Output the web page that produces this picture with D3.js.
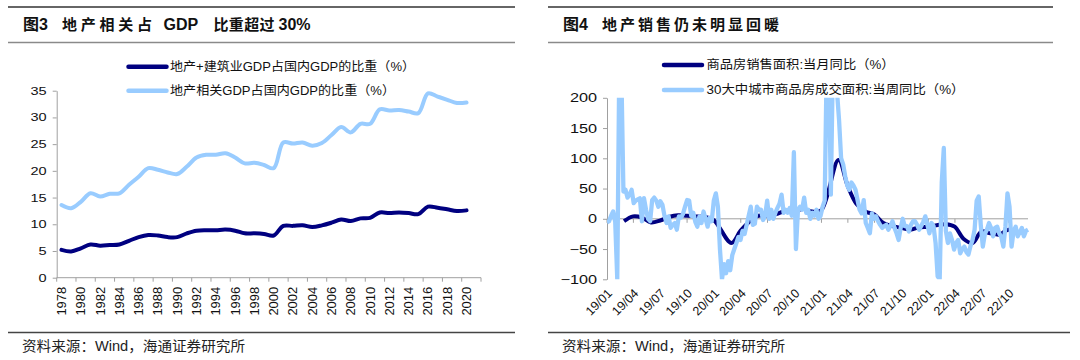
<!DOCTYPE html>
<html><head><meta charset="utf-8">
<script src="https://cdn.jsdelivr.net/npm/d3@7"></script>
<style>
body{margin:0;background:#fff;}
svg{display:block;font-family:"Liberation Sans","Noto Sans CJK SC",sans-serif;}
</style></head><body>
<svg id="c" width="1080" height="360"></svg>
<script>
// ---------- DATA ----------
const years = ["1978","1979","1980","1981","1982","1983","1984","1985","1986","1987","1988","1989","1990","1991","1992","1993","1994","1995","1996","1997","1998","1999","2000","2001","2002","2003","2004","2005","2006","2007","2008","2009","2010","2011","2012","2013","2014","2015","2016","2017","2018","2019","2020","2021"];
const yearLabels = ["1978","1980","1982","1984","1986","1988","1990","1992","1994","1996","1998","2000","2002","2004","2006","2008","2010","2012","2014","2016","2018","2020"];
const reConstShare = [5.2,4.9,5.5,6.2,6.0,6.1,6.2,6.9,7.6,8.0,7.9,7.6,7.6,8.3,8.8,8.9,8.9,9.0,8.8,8.3,8.3,8.2,7.9,9.7,9.7,9.8,9.5,9.8,10.3,10.9,10.6,11.1,11.2,12.2,12.1,12.2,12.1,11.9,13.3,13.1,12.8,12.5,12.6];
const reRelatedShare = [13.6,13.0,14.2,15.8,15.2,15.7,15.8,17.4,18.9,20.5,20.2,19.7,19.4,20.8,22.5,23.0,23.0,23.3,22.5,21.4,21.5,21.1,20.5,25.3,25.1,25.3,24.7,25.2,26.7,28.2,27.2,28.8,28.8,31.5,31.3,31.4,31.1,30.8,34.5,33.9,33.3,32.7,32.8];
const leftYTicks = [0,5,10,15,20,25,30,35];

const months = ["2019-02","2019-03","2019-04","2019-05","2019-06","2019-07","2019-08","2019-09","2019-10","2019-11","2019-12",
"2020-02","2020-03","2020-04","2020-05","2020-06","2020-07","2020-08","2020-09","2020-10","2020-11","2020-12",
"2021-02","2021-03","2021-04","2021-05","2021-06","2021-07","2021-08","2021-09","2021-10","2021-11","2021-12",
"2022-02","2022-03","2022-04","2022-05","2022-06","2022-07","2022-08","2022-09","2022-10"];
const monthlyYoY = [-4,4,2,-6,-3,3,6,5,4,3,-2,
-40,-20,-5,5,5,8,13,13,16,12,14,
97,55,25,12,7,-7,-12,-15,-18,-14,-13,
-9,-13,-33,-40,-21,-24,-26,-18,-23];
const weekStart = "2019-01-01";
const weeklyYoY = [
-6,-4,5,12,-5,-100,260,240,45,48,
35,40,48,26,30,32,34,-4,34,15,
0,-4,31,35,30,20,29,23,5,-7,
4,-15,-10,-7,-18,4,2,8,20,31,
30,5,10,-5,-13,4,-7,12,0,-13,
2,-4,30,42,20,-50,-100,-75,-90,-70,
-85,-60,-50,-40,-30,-35,-20,-25,-10,5,
20,-10,-8,20,15,15,-2,5,30,0,
15,0,10,18,25,40,10,15,10,18,
5,110,-50,15,20,15,35,10,15,0,
10,5,15,0,5,20,30,260,260,40,
260,240,210,163,100,90,70,55,48,60,
55,48,31,15,9,31,-7,-15,-24,9,
0,4,-4,-10,-15,-12,-10,-18,-12,-4,
-15,-24,-35,-15,0,-12,-12,-21,-10,-4,
-4,-10,-18,-12,-5,4,-10,-24,-7,-12,
-40,-95,-100,60,117,-20,-40,-24,-35,-51,
-40,-35,-57,-50,-46,-55,-59,-45,-35,-18,
30,37,-10,-46,-25,-18,-7,-15,-29,-15,
-13,-24,-30,-46,-13,42,20,-46,-20,-13,
-29,-22,-15,-29,-20,-18];
const rightXTickLabels = ["19/01","19/04","19/07","19/10","20/01","20/04","20/07","20/10","21/01","21/04","21/07","21/10","22/01","22/04","22/07","22/10"];
const rightYTicks = [-100,-50,0,50,100,150,200];

// ---------- STYLE ----------
const DARK = "#000080", LIGHT = "#99ccff", AXIS = "#a0a0a0";
const svg = d3.select("#c");

function stretch(sel, sx){
  sel.each(function(){
    const l = this.getComputedTextLength();
    this.setAttribute("textLength", l*sx);
    this.setAttribute("lengthAdjust","spacingAndGlyphs");
  });
}

// ---------- FRAME (titles / rules / footers) ----------
function panelFrame(x0, x1, footX1, num, parts){
  svg.append("line").attr("x1",x0).attr("x2",x1).attr("y1",7).attr("y2",7).attr("stroke","#333").attr("stroke-width",1.3);
  svg.append("line").attr("x1",x0).attr("x2",x1).attr("y1",42.5).attr("y2",42.5).attr("stroke","#8a8a8a").attr("stroke-width",1.6);
  svg.append("line").attr("x1",x0).attr("x2",footX1).attr("y1",332.5).attr("y2",332.5).attr("stroke","#444").attr("stroke-width",1.4);
  svg.append("text").attr("x",x0+15).attr("y",30).attr("font-size",16).attr("font-weight","bold").attr("fill","#111").text(num);
  parts.forEach(p=>{
    const t = svg.append("text").attr("x",x0+p.dx).attr("y",30).attr("font-size",p.fs||15).attr("font-weight","bold").attr("fill","#111").text(p.t);
    if(p.len) t.attr("textLength",p.len).attr("lengthAdjust","spacing");
  });
  svg.append("text").attr("x",x0+14).attr("y",351).attr("font-size",14).attr("fill","#222")
    .attr("textLength",223).attr("lengthAdjust","spacingAndGlyphs").text("资料来源：Wind，海通证券研究所");
}
panelFrame(8, 515, 515, "图3", [
  {t:"地产相关占", dx:54, len:90},
  {t:"GDP", dx:155.5, fs:16},
  {t:"比重超过", dx:205.5, len:61},
  {t:"30%", dx:270.5, fs:16}
]);
panelFrame(548, 1053, 1070, "图4", [{t:"地产销售仍未明显回暖", dx:54, len:177}]);

// ---------- LEFT CHART ----------
const xL = d3.scaleBand().domain(years).range([56.7, 481]);
const yL = d3.scaleLinear().domain([0,35]).range([277.7, 90.7]);
const bw = xL.bandwidth();
const gL = svg.append("g");

const yAxL = gL.append("g").attr("transform",`translate(${xL.range()[0]},0)`)
  .call(d3.axisLeft(yL).tickValues(leftYTicks).tickSize(4).tickSizeOuter(0).tickPadding(6));
yAxL.select(".domain").attr("stroke",AXIS);
yAxL.selectAll(".tick line").attr("stroke",AXIS);
yAxL.selectAll("text").attr("font-size",11).attr("fill","#111").attr("font-family","Liberation Sans");
stretch(yAxL.selectAll("text"),1.32);

// x axis
gL.append("line").attr("x1",xL.range()[0]).attr("x2",xL.range()[1]).attr("y1",yL(0)).attr("y2",yL(0)).attr("stroke",AXIS);
const tickXs = years.filter((d,i)=>i%2===0).map(d=>xL(d)).concat([xL.range()[1]]);
gL.selectAll(".xt").data(tickXs).join("line").attr("x1",d=>d).attr("x2",d=>d)
  .attr("y1",yL(0)).attr("y2",yL(0)+4).attr("stroke",AXIS);
gL.selectAll(".xl").data(yearLabels).join("text")
  .attr("transform",d=>`translate(${xL(d)+bw/2},${yL(0)+9}) rotate(-90)`)
  .attr("text-anchor","end").attr("dominant-baseline","central")
  .attr("font-size",13).attr("fill","#111").text(d=>d);

const lineL = d3.line().x(d=>xL(d.y)+bw/2).y(d=>yL(d.v)).curve(d3.curveCatmullRom.alpha(0.5));
const ser1 = reConstShare.map((v,i)=>({y:years[i],v}));
const ser2 = reRelatedShare.map((v,i)=>({y:years[i],v}));
gL.append("path").attr("d",lineL(ser2)).attr("fill","none").attr("stroke",LIGHT).attr("stroke-width",4).attr("stroke-linejoin","round").attr("stroke-linecap","round");
gL.append("path").attr("d",lineL(ser1)).attr("fill","none").attr("stroke",DARK).attr("stroke-width",4).attr("stroke-linejoin","round").attr("stroke-linecap","round");

// legend left
const legL = [{c:DARK,t:"地产+建筑业GDP占国内GDP的比重（%）",y:66.7,len:245},{c:LIGHT,t:"地产相关GDP占国内GDP的比重（%）",y:90.7,len:225}];
legL.forEach(d=>{
  gL.append("line").attr("x1",128.5).attr("x2",166.5).attr("y1",d.y).attr("y2",d.y).attr("stroke",d.c).attr("stroke-width",4.5).attr("stroke-linecap","round");
  gL.append("text").attr("x",170).attr("y",d.y).attr("dominant-baseline","central").attr("font-size",12.5).attr("fill","#111")
    .attr("textLength",d.len).attr("lengthAdjust","spacingAndGlyphs").text(d.t);
});

// ---------- RIGHT CHART ----------
const parseM = d3.timeParse("%Y-%m");
const t0 = d3.timeParse("%Y-%m-%d")(weekStart);
const weekDates = weeklyYoY.map((v,i)=>d3.timeDay.offset(t0, 7*i));
const xR = d3.scaleTime().domain([t0, weekDates[weekDates.length-1]]).range([607, 1028]);
const yR = d3.scaleLinear().domain([-100,200]).range([279.3, 97.8]);
const gR = svg.append("g");

const yAxR = gR.append("g").attr("transform",`translate(${xR.range()[0]},0)`)
  .call(d3.axisLeft(yR).tickValues(rightYTicks).tickSize(4).tickSizeOuter(0).tickPadding(6));
yAxR.select(".domain").attr("stroke",AXIS);
yAxR.selectAll(".tick line").attr("stroke",AXIS);
yAxR.selectAll("text").attr("font-size",12.5).attr("fill","#111").attr("font-family","Liberation Sans");
stretch(yAxR.selectAll("text"),1.3);

gR.append("line").attr("x1",xR.range()[0]).attr("x2",xR.range()[1]).attr("y1",yR(0)).attr("y2",yR(0)).attr("stroke",AXIS);
const tickDates = rightXTickLabels.map(s=>d3.timeParse("%y/%m")(s));
gR.selectAll(".xt").data(tickDates).join("line").attr("x1",d=>xR(d)).attr("x2",d=>xR(d))
  .attr("y1",yR(0)).attr("y2",yR(0)+4).attr("stroke",AXIS);
gR.selectAll(".xl").data(rightXTickLabels).join("text")
  .attr("transform",s=>`translate(${xR(d3.timeParse("%y/%m")(s))+3},${yR(-100)+12}) rotate(-45)`)
  .attr("text-anchor","end").attr("dominant-baseline","central")
  .attr("font-size",12.5).attr("fill","#111").text(d=>d);

svg.append("clipPath").attr("id","clipR").append("rect")
  .attr("x",xR.range()[0]).attr("y",yR(200)).attr("width",xR.range()[1]-xR.range()[0]+3).attr("height",yR(-100)-yR(200));
const plotR = gR.append("g").attr("clip-path","url(#clipR)");
const monthEnd = m => { const d = parseM(m); return new Date(d.getFullYear(), d.getMonth()+1, 0); };
const darkSer = months.map((m,i)=>({d:monthEnd(m), v:monthlyYoY[i]}));
const lightSer = weeklyYoY.map((v,i)=>({d:weekDates[i], v}));
plotR.append("path").attr("d",d3.line().x(d=>xR(d.d)).y(d=>yR(d.v)).curve(d3.curveCatmullRom.alpha(0.5))(darkSer))
  .attr("fill","none").attr("stroke",DARK).attr("stroke-width",4).attr("stroke-linejoin","round");
plotR.append("path").attr("d",d3.line().x(d=>xR(d.d)).y(d=>yR(d.v))(lightSer))
  .attr("fill","none").attr("stroke",LIGHT).attr("stroke-width",4.3).attr("stroke-linejoin","round");

const legR = [{c:DARK,t:"商品房销售面积:当月同比（%）",y:65,len:188},{c:LIGHT,t:"30大中城市商品房成交面积:当周同比（%）",y:90,len:258}];
legR.forEach(d=>{
  gR.append("line").attr("x1",664).attr("x2",702).attr("y1",d.y).attr("y2",d.y).attr("stroke",d.c).attr("stroke-width",4.5).attr("stroke-linecap","round");
  gR.append("text").attr("x",706.5).attr("y",d.y).attr("dominant-baseline","central").attr("font-size",12.5).attr("fill","#111")
    .attr("textLength",d.len).attr("lengthAdjust","spacingAndGlyphs").text(d.t);
});
</script>
</body></html>
